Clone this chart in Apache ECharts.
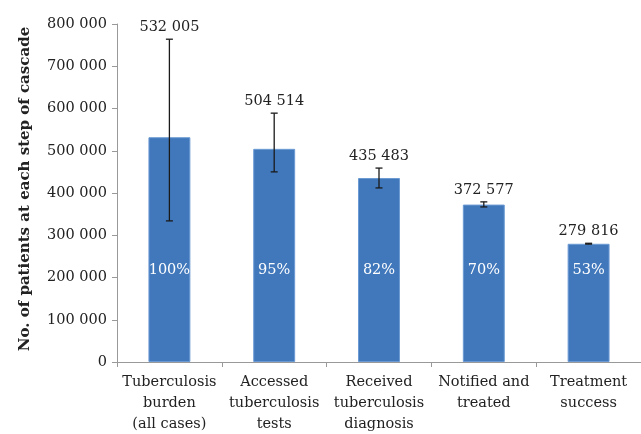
<!DOCTYPE html>
<html>
<head>
<meta charset="utf-8">
<script src="https://cdn.jsdelivr.net/npm/echarts@6/dist/echarts.min.js"></script>
<style>html,body{margin:0;padding:0;background:#fff;}#c{width:641px;height:434px;}</style>
</head>
<body>
<div id="c"></div>
<script>
var categories = ['Tuberculosis\nburden\n(all cases)', 'Accessed\ntuberculosis\ntests', 'Received\ntuberculosis\ndiagnosis', 'Notified and\ntreated', 'Treatment\nsuccess'];
var values = [532005, 504514, 435483, 372577, 279816];
var lowerBounds = [334000, 450000, 412000, 367000, 279000];
var upperBounds = [764000, 589000, 459000, 379000, 281000];
var percents = ['100%', '95%', '82%', '70%', '53%'];
var yTicks = [0, 100000, 200000, 300000, 400000, 500000, 600000, 700000, 800000];

function fmt(v) { return String(v).replace(/\B(?=(\d{3})+(?!\d))/g, ' '); }
var FONT = '"DejaVu Serif", "Liberation Serif", serif';

var errData = values.map(function (v, i) { return [i, lowerBounds[i], upperBounds[i], v]; });

var chart = echarts.init(document.getElementById('c'));
chart.setOption({
  animation: false,
  backgroundColor: '#fff',
  grid: { left: 117, right: 0, top: 24, bottom: 72, containLabel: false, outerBoundsMode: 'none' },
  xAxis: {
    type: 'category',
    data: categories,
    axisLine: { lineStyle: { color: '#999', width: 1 } },
    axisTick: { show: true, length: 5, lineStyle: { color: '#999' } },
    axisLabel: { fontFamily: FONT, fontSize: 14.5, color: '#222', lineHeight: 21, margin: 10, interval: 0 }
  },
  yAxis: {
    type: 'value',
    min: yTicks[0], max: yTicks[yTicks.length - 1], interval: 100000,
    name: 'No. of patients at each step of cascade',
    nameLocation: 'middle', nameGap: 84, nameRotate: 90,
    nameTextStyle: { fontFamily: FONT, fontSize: 15, fontWeight: 'bold', color: '#222', padding: [0, 0, 0, 8] },
    axisLine: { show: true, lineStyle: { color: '#999', width: 1 } },
    axisTick: { show: true, length: 5, lineStyle: { color: '#999' } },
    splitLine: { show: false },
    axisLabel: { fontFamily: FONT, fontSize: 14.5, color: '#222', margin: 10, formatter: fmt }
  },
  series: [
    {
      type: 'bar',
      data: values,
      barWidth: '40%',
      itemStyle: { color: '#4178bc', borderColor: '#6b9ad3', borderWidth: 1 }
    },
    {
      type: 'custom',
      data: errData,
      z: 10,
      clip: false,
      renderItem: function (params, api) {
        var i = api.value(0);
        var lo = api.coord([i, api.value(1)]);
        var hi = api.coord([i, api.value(2)]);
        var base = api.coord([i, 0]);
        var cap = 3.5;
        var st = { stroke: '#1a1a1a', lineWidth: 1.3 };
        return {
          type: 'group',
          children: [
            { type: 'line', shape: { x1: hi[0], y1: hi[1], x2: lo[0], y2: lo[1] }, style: st },
            { type: 'line', shape: { x1: hi[0] - cap, y1: hi[1], x2: hi[0] + cap, y2: hi[1] }, style: st },
            { type: 'line', shape: { x1: lo[0] - cap, y1: lo[1], x2: lo[0] + cap, y2: lo[1] }, style: st },
            { type: 'text', x: hi[0], y: hi[1] - 12, style: { text: fmt(values[i]), fill: '#222', font: '14.5px ' + FONT, textAlign: 'center', textVerticalAlign: 'middle' } },
            { type: 'text', x: base[0], y: base[1] - 92, style: { text: percents[i], fill: '#ffffff', font: '14.5px ' + FONT, textAlign: 'center', textVerticalAlign: 'middle' } }
          ]
        };
      }
    }
  ]
});
</script>
</body>
</html>
